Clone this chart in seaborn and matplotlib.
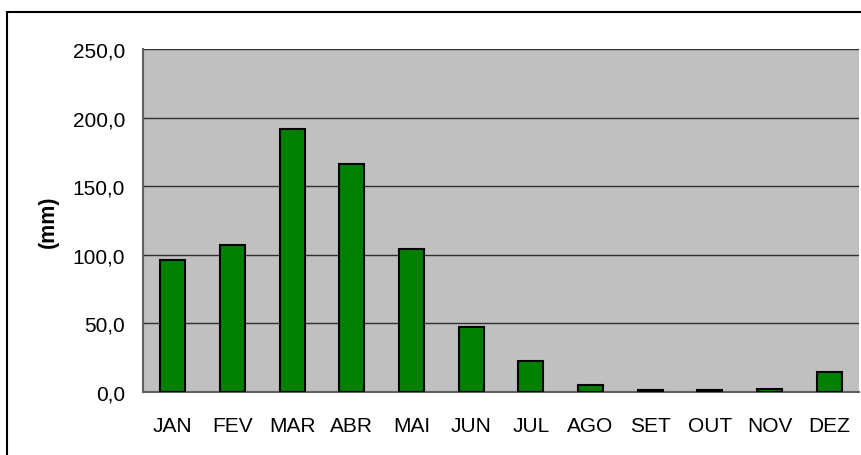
import matplotlib
matplotlib.use('Agg')
import matplotlib.pyplot as plt
import matplotlib.patches as mpatches
import matplotlib.ticker as mticker
import pandas as pd
import seaborn as sns

# monthly rainfall (mm)
meses = ['JAN', 'FEV', 'MAR', 'ABR', 'MAI', 'JUN', 'JUL', 'AGO', 'SET', 'OUT', 'NOV', 'DEZ']
chuva = [96.2, 106.8, 191.8, 166.5, 104.0, 47.2, 22.8, 5.3, 1.2, 1.2, 2.4, 14.5]

df = pd.DataFrame({'mes': meses, 'chuva': chuva})

sns.set_style('white')
plt.rcParams['font.family'] = ['Liberation Sans', 'DejaVu Sans']

fig = plt.figure(figsize=(8.61, 4.56), dpi=100)
ax = fig.add_axes([143/861, 63/456, 716/861, 343/456])
ax.set_facecolor('#c0c0c0')

sns.barplot(data=df, x='mes', y='chuva', color='#008000', width=0.42,
            edgecolor='black', linewidth=1.5, saturation=1, ax=ax, zorder=3)

ax.set_ylim(0, 250)
ax.set_xlim(-0.5, 11.5)
ax.yaxis.set_major_locator(mticker.MultipleLocator(50))
ax.yaxis.set_major_formatter(mticker.FuncFormatter(lambda v, p: f'{v:.1f}'.replace('.', ',')))
ax.grid(axis='y', color='#303030', linewidth=1, zorder=1)
ax.set_axisbelow(True)

# ticks between categories like excel
ax.set_xticks([i + 0.5 for i in range(-1, 12)], minor=False)
ax.set_xticklabels([])
ax.set_xticks(range(12), minor=True)
ax.set_xticklabels(meses, minor=True)
ax.tick_params(axis='x', which='major', length=5, width=1, color='#606060', direction='out')
ax.tick_params(axis='x', which='minor', length=0, pad=17, labelsize=15, labelcolor='black')
ax.tick_params(axis='y', length=5, width=1, color='#606060', direction='out', pad=8,
               labelsize=15, labelcolor='black')

for s in ['top', 'right']:
    ax.spines[s].set_visible(False)
for s in ['left', 'bottom']:
    ax.spines[s].set_color('#606060')
    ax.spines[s].set_linewidth(1.5)

ax.set_xlabel('')
ax.set_ylabel('(mm)', fontsize=15.5, fontweight='bold', color='black', labelpad=10)

# outer chart frame
fig.patches.append(mpatches.Rectangle((7/861, -0.01), 1.0, (456-13)/456 + 0.01,
                                      transform=fig.transFigure, fill=False,
                                      edgecolor='black', linewidth=1.5, zorder=0))

fig.savefig('out.png', dpi=100)
